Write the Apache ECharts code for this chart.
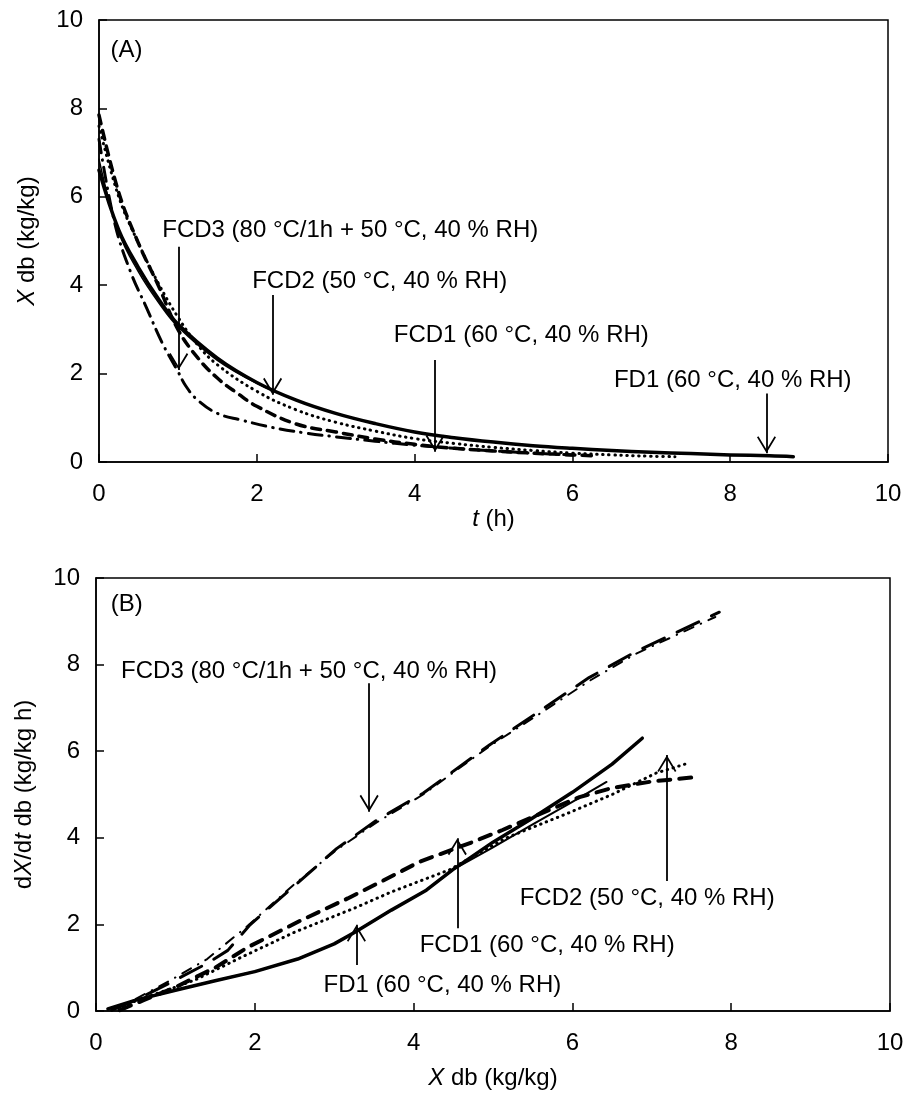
<!DOCTYPE html>
<html>
<head>
<meta charset="utf-8">
<script src="https://cdn.jsdelivr.net/npm/echarts@6/dist/echarts.min.js"></script>
<style>
html,body{margin:0;padding:0;background:#fff;}
#chart{width:908px;height:1095px;}
</style>
</head>
<body>
<div id="chart"></div>
<script>
// ---------- Panel A data: X db (kg/kg) vs t (h) ----------
const tA_FD1  = [0,0.25,0.5,0.75,1,1.5,2,2.5,3,3.5,4,4.5,5,5.5,6,6.5,7,7.5,8,8.5,8.8];
const xA_FD1  = [6.6,5.25,4.4,3.7,3.12,2.35,1.8,1.4,1.1,0.87,0.68,0.55,0.45,0.37,0.31,0.26,0.22,0.19,0.16,0.14,0.12];
const tA_FD1b = [0,0.25,0.5,0.75,1,1.5,2,2.5,3,3.5,4,4.5,5,5.5,6,6.5,7,7.5,8,8.5,8.8];
const xA_FD1b = [6.85,5.2,4.3,3.62,3.06,2.3,1.78,1.4,1.1,0.87,0.68,0.55,0.45,0.37,0.31,0.26,0.22,0.19,0.16,0.14,0.12];
const tA_FCD2 = [0,0.25,0.5,0.75,1,1.25,1.5,2,2.5,3,3.5,4,4.5,5,5.5,6,6.5,7,7.3];
const xA_FCD2 = [7.6,6.0,4.95,4.05,3.28,2.65,2.2,1.6,1.18,0.9,0.7,0.53,0.42,0.33,0.26,0.2,0.16,0.13,0.12];
const tA_FCD1 = [0,0.25,0.5,0.75,1,1.25,1.5,1.75,2,2.5,3,3.5,4,4.5,5,5.5,6,6.3];
const xA_FCD1 = [7.85,6.1,4.95,4.0,3.0,2.36,1.9,1.56,1.26,0.86,0.68,0.52,0.4,0.31,0.25,0.2,0.16,0.14];
const tA_FCD3 = [0,0.2,0.4,0.6,0.8,1.0,1.1,1.25,1.5,1.8,2.2,2.6,3,3.5,4,4.5,5,5.5,6];
const xA_FCD3 = [7.3,5.4,4.3,3.5,2.7,2.05,1.72,1.4,1.1,0.95,0.78,0.66,0.57,0.47,0.38,0.31,0.25,0.2,0.16];

// ---------- Panel B data: dX/dt db (kg/kg h) vs X db (kg/kg) ----------
const xB_FD1  = [0.15,0.5,1.0,1.5,2.0,2.54,3.0,3.26,3.72,4.16,4.49,5.0,5.46,6.0,6.5,6.88];
const yB_FD1  = [0.05,0.25,0.48,0.7,0.91,1.2,1.55,1.82,2.33,2.79,3.26,3.9,4.41,5.05,5.7,6.3];
const xB_FD1b = [0.15,0.5,1.0,1.5,2.0,2.54,3.0,3.26,3.72,4.16,4.49,5.0,5.5,6.0,6.43];
const yB_FD1b = [0.05,0.25,0.48,0.7,0.91,1.2,1.55,1.82,2.33,2.79,3.26,3.78,4.31,4.83,5.29];
const xB_FCD2 = [0.2,0.6,1.0,1.25,1.84,2.5,3.26,3.72,4.45,5.17,5.92,6.5,7.06,7.47];
const yB_FCD2 = [0.02,0.3,0.55,0.72,1.25,1.82,2.38,2.75,3.26,4.0,4.55,5.0,5.5,5.73];
const xB_FCD1 = [0.3,0.6,1.0,1.5,1.92,2.59,3.17,3.55,4.08,4.74,5.12,5.5,6.09,6.5,7.0,7.55];
const yB_FCD1 = [0.02,0.25,0.55,1.0,1.48,2.1,2.6,2.95,3.45,3.9,4.18,4.48,4.94,5.15,5.3,5.4];
const xB_FCD3 = [0.2,0.5,0.93,1.4,1.66,1.94,2.48,3.03,3.53,4.12,4.96,5.55,6.21,6.8,7.85];
const yB_FCD3 = [0.02,0.25,0.65,1.1,1.4,1.99,2.86,3.75,4.4,5.03,6.15,6.88,7.7,8.3,9.21];
const xB_FCD3b = [0.2,0.5,0.93,1.4,1.9,2.48,3.03,3.53,4.12,4.96,5.55,6.21,6.8,7.8];
const yB_FCD3b = [0.02,0.28,0.7,1.2,1.95,2.9,3.72,4.35,5.0,6.12,6.82,7.62,8.25,9.1];

// ---------- axis ticks ----------
const axisMin = 0, axisMax = 10, axisStep = 2;

// ---------- annotations (text, label anchor in data units, arrow in data units) ----------
const annA = [
  {text:'FCD3 (80 °C/1h + 50 °C, 40 % RH)', tx:0.795, ty:5.25, ax:1.01, y0:4.87, y1:2.08},
  {text:'FCD2 (50 °C, 40 % RH)', tx:1.935, ty:4.08, ax:2.2, y0:3.78, y1:1.52},
  {text:'FCD1 (60 °C, 40 % RH)', tx:3.73, ty:2.87, ax:4.26, y0:2.31, y1:0.23},
  {text:'FD1 (60 °C, 40 % RH)', tx:6.52, ty:1.855, ax:8.46, y0:1.55, y1:0.2}
];
const annB = [
  {text:'FCD3 (80 °C/1h + 50 °C, 40 % RH)', tx:0.31, ty:7.84, ax:3.44, y0:7.57, y1:4.6},
  {text:'FCD2 (50 °C, 40 % RH)', tx:5.33, ty:2.6, ax:7.19, y0:3.0, y1:5.91},
  {text:'FCD1 (60 °C, 40 % RH)', tx:4.07, ty:1.52, ax:4.55, y0:1.91, y1:3.99},
  {text:'FD1 (60 °C, 40 % RH)', tx:2.86, ty:0.6, ax:3.28, y0:1.06, y1:1.99}
];
const panelA = {text:'(A)', tx:0.14, ty:9.32};
const panelB = {text:'(B)', tx:0.18, ty:9.38};

const FONT = '"Liberation Sans", Arial, Helvetica, sans-serif';
const ARROW = 'path://M10,-18L10.001,-18L10,-18Z M10,0L20,16.4L18.5,17.6L10,3.6L1.5,17.6L0,16.4Z';

function zip(a, b){ return a.map((v,i)=>[v, b[i]]); }

function markers(ann, panel){
  return {
    markLine: {
      silent: true, animation: false,
      symbol: ['none', ARROW], symbolSize: [19, 34],
      label: {show:false},
      lineStyle: {color:'#000', width:1.8, type:'solid'},
      emphasis: {disabled:true},
      data: ann.map(a => [{coord:[a.ax, a.y0]}, {coord:[a.ax, a.y1]}])
    },
    markPoint: {
      silent: true, animation: false,
      symbol: 'rect', symbolSize: 1,
      itemStyle: {color:'rgba(0,0,0,0)'},
      label: {show:true, position:'right', distance:0, color:'#000', fontSize:24, fontFamily:FONT},
      emphasis: {disabled:true},
      data: ann.concat([panel]).map(a => ({coord:[a.tx, a.ty], value:0, label:{formatter:a.text}}))
    }
  };
}

function line(idx, data, width, type, smooth, extra){
  const s = {
    type:'line', xAxisIndex:idx, yAxisIndex:idx, data:data,
    showSymbol:false, symbol:'none', smooth:smooth,
    animation:false, silent:true,
    lineStyle:{color:'#000', width:width, type:type, cap:'round', join:'round'}
  };
  return Object.assign(s, extra || {});
}

const axisCommon = {
  type:'value', min:axisMin, max:axisMax, interval:axisStep,
  axisLine:{show:true, onZero:false, lineStyle:{color:'#000', width:1.5}},
  axisTick:{show:true, inside:true, length:8, lineStyle:{color:'#000', width:1.5}},
  splitLine:{show:false},
  nameLocation:'middle'
};
const labX = {color:'#000', fontSize:24, fontFamily:FONT, margin:20};
const labY = {color:'#000', fontSize:24, fontFamily:FONT, margin:16};
const nameStyle = {color:'#000', fontSize:24, fontFamily:FONT,
  rich:{i:{fontStyle:'italic', fontSize:24, fontFamily:FONT, color:'#000'}}};

const option = {
  backgroundColor:'#fff',
  animation:false,
  grid:[
    {left:99, top:20, width:789, height:442, show:true, borderColor:'#000', borderWidth:1.5, backgroundColor:'transparent'},
    {left:96, top:578, width:794, height:433, show:true, borderColor:'#000', borderWidth:1.5, backgroundColor:'transparent'}
  ],
  xAxis:[
    Object.assign({}, axisCommon, {gridIndex:0, position:'bottom', name:'{i|t} (h)', nameGap:36, nameTextStyle:nameStyle, axisLabel:labX}),
    Object.assign({}, axisCommon, {gridIndex:1, position:'bottom', name:'{i|X} db (kg/kg)', nameGap:55, nameTextStyle:nameStyle, axisLabel:labX})
  ],
  yAxis:[
    Object.assign({}, axisCommon, {gridIndex:0, position:'left', name:'{i|X} db (kg/kg)', nameGap:60, nameRotate:90, nameTextStyle:nameStyle, axisLabel:labY}),
    Object.assign({}, axisCommon, {gridIndex:1, position:'left', name:'d{i|X}/d{i|t} db (kg/kg h)', nameGap:60, nameRotate:90, nameTextStyle:nameStyle, axisLabel:labY})
  ],
  series:[
    line(0, zip(tA_FD1, xA_FD1), 3.5, 'solid', 0.4, markers(annA, panelA)),
    line(0, zip(tA_FD1b, xA_FD1b), 1.5, 'solid', 0.4),
    line(0, zip(tA_FCD2, xA_FCD2), 3, [0.5, 5.5], 0.4),
    line(0, zip(tA_FCD1, xA_FCD1), 3.5, [9, 7], 0.4),
    line(0, zip(tA_FCD3, xA_FCD3), 3, [14, 7, 0.5, 7], 0.4),

    line(1, zip(xB_FD1, yB_FD1), 3.5, 'solid', 0, markers(annB, panelB)),
    line(1, zip(xB_FD1b, yB_FD1b), 2, 'solid', 0),
    line(1, zip(xB_FCD2, yB_FCD2), 3, [0.5, 5.5], 0),
    line(1, zip(xB_FCD1, yB_FCD1), 4, [12, 9], 0),
    line(1, zip(xB_FCD3, yB_FCD3), 3, [24, 14], 0),
    line(1, zip(xB_FCD3b, yB_FCD3b), 2, [10, 8, 0.5, 8], 0)
  ]
};

const chart = echarts.init(document.getElementById('chart'), null, {renderer:'canvas'});
chart.setOption(option);
</script>
</body>
</html>
